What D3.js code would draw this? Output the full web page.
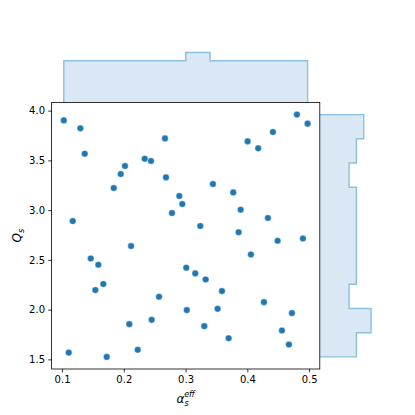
<!DOCTYPE html>
<html>
<head>
<meta charset="utf-8">
<script src="https://cdn.jsdelivr.net/npm/d3@7"></script>
<style>
body { margin: 0; background: #fff; }
text { font-family: "DejaVu Sans", sans-serif; fill: #000; }
</style>
</head>
<body>
<div id="content"></div>
<script>
// effective alpha_s and Q_s values (51 points)
const alphaEff = [0.1028, 0.1296, 0.2667, 0.1367, 0.2338, 0.2440, 0.2019, 0.1950, 0.2683, 0.1837,
    0.2898, 0.2947, 0.2780, 0.1173, 0.4803, 0.4976, 0.4414, 0.4005, 0.4176, 0.3443,
    0.3772, 0.3892, 0.4333, 0.3238, 0.3859, 0.4490, 0.4900, 0.2117, 0.1464, 0.1587,
    0.3011, 0.1668, 0.1539, 0.2570, 0.3020, 0.2451, 0.2089, 0.1108, 0.2225, 0.1723,
    0.4058, 0.3157, 0.3325, 0.3589, 0.4269, 0.4722, 0.3519, 0.3303, 0.4560, 0.3697,
    0.4673];
const qS = [3.902, 3.822, 3.721, 3.567, 3.517, 3.494, 3.444, 3.363, 3.329, 3.222,
    3.142, 3.061, 2.971, 2.890, 3.960, 3.869, 3.786, 3.691, 3.621, 3.262,
    3.178, 3.004, 2.921, 2.840, 2.778, 2.692, 2.715, 2.639, 2.514, 2.451,
    2.421, 2.257, 2.196, 2.129, 1.995, 1.897, 1.854, 1.568, 1.596, 1.525,
    2.554, 2.364, 2.303, 2.186, 2.075, 1.965, 2.008, 1.834, 1.790, 1.713,
    1.649];
const xTicks = [0.1, 0.2, 0.3, 0.4, 0.5];
const yTicks = [1.5, 2.0, 2.5, 3.0, 3.5, 4.0];
const nBins = 10;

function draw() {
    var W = 415, H = 415;
    var pLeft = 51.6, pRight = 319.8, pTop = 102.5, pBottom = 369;
    var margTop = 50, margRight = 373.6;

    var blue = '#1f77b4';
    var histFill = '#d9e8f4';
    var histStroke = '#8ec0e2';

    var svg = d3.select('#content')
    .append('svg')
    .attr('width', W)
    .attr('height', H);

    function padded(ext) {
        var r = ext[1] - ext[0];
        return [ext[0] - 0.05 * r, ext[1] + 0.05 * r];
    }

    var xExt = d3.extent(alphaEff);
    var yExt = d3.extent(qS);

    var xScale = d3.scaleLinear().domain(padded(xExt)).range([pLeft, pRight]);
    var yScale = d3.scaleLinear().domain(padded(yExt)).range([pBottom, pTop]);

    function makeBins(values, ext) {
        var w = (ext[1] - ext[0]) / nBins;
        var th = d3.range(1, nBins).map(function (i) {return ext[0] + i * w});
        return d3.bin().domain(ext).thresholds(th)(values);
    }

    var xBins = makeBins(alphaEff, xExt);
    var yBins = makeBins(qS, yExt);

    // top marginal histogram
    var topCount = d3.scaleLinear()
    .domain([0, d3.max(xBins, function (b) {return b.length}) * 1.05])
    .range([pTop, margTop]);

    var topPts = [[xBins[0].x0, 0]];
    xBins.forEach(function (b) {
        topPts.push([b.x0, b.length]);
        topPts.push([b.x1, b.length]);
    });
    topPts.push([xBins[xBins.length - 1].x1, 0]);

    var topLine = d3.line()
    .x(function (p) {return xScale(p[0])})
    .y(function (p) {return topCount(p[1])});

    svg.append('path')
    .attr('d', topLine(topPts) + 'Z')
    .attr('fill', histFill)
    .attr('stroke', 'none');
    svg.append('path')
    .attr('d', topLine(topPts))
    .attr('fill', 'none')
    .attr('stroke', histStroke)
    .attr('stroke-width', 1.45);

    // right marginal histogram
    var rightCount = d3.scaleLinear()
    .domain([0, d3.max(yBins, function (b) {return b.length}) * 1.05])
    .range([pRight, margRight]);

    var rightPts = [[yBins[0].x0, 0]];
    yBins.forEach(function (b) {
        rightPts.push([b.x0, b.length]);
        rightPts.push([b.x1, b.length]);
    });
    rightPts.push([yBins[yBins.length - 1].x1, 0]);

    var rightLine = d3.line()
    .x(function (p) {return rightCount(p[1])})
    .y(function (p) {return yScale(p[0])});

    svg.append('path')
    .attr('d', rightLine(rightPts) + 'Z')
    .attr('fill', histFill)
    .attr('stroke', 'none');
    svg.append('path')
    .attr('d', rightLine(rightPts))
    .attr('fill', 'none')
    .attr('stroke', histStroke)
    .attr('stroke-width', 1.45);

    // scatter
    svg.selectAll('circle')
    .data(alphaEff)
    .enter()
    .append('circle')
    .attr('cx', function (d) {return xScale(d)})
    .attr('cy', function (d, i) {return yScale(qS[i])})
    .attr('r', 3.3)
    .attr('fill', blue)
    .attr('stroke', '#fff')
    .attr('stroke-width', 0.4);

    // axes
    var xAxis = d3.axisBottom(xScale)
    .tickValues(xTicks)
    .tickFormat(d3.format('.1f'))
    .tickSizeInner(3.4)
    .tickSizeOuter(0)
    .tickPadding(3.2);

    var yAxis = d3.axisLeft(yScale)
    .tickValues(yTicks)
    .tickFormat(d3.format('.1f'))
    .tickSizeInner(3.4)
    .tickSizeOuter(0)
    .tickPadding(3.2);

    var gx = svg.append('g')
    .attr('transform', 'translate(0, ' + pBottom + ')')
    .call(xAxis);
    var gy = svg.append('g')
    .attr('transform', 'translate(' + pLeft + ', 0)')
    .call(yAxis);

    [gx, gy].forEach(function (g) {
        g.select('.domain').remove();
        g.selectAll('line').attr('stroke', '#000').attr('stroke-width', 0.8);
        g.selectAll('text')
        .attr('font-family', '"DejaVu Sans", sans-serif')
        .attr('font-size', '10px')
        .attr('fill', '#000');
    });

    // frame
    svg.append('rect')
    .attr('x', pLeft)
    .attr('y', pTop)
    .attr('width', pRight - pLeft)
    .attr('height', pBottom - pTop)
    .attr('fill', 'none')
    .attr('stroke', '#000')
    .attr('stroke-width', 0.8);

    // axis labels
    var xl = svg.append('text')
    .attr('x', (pLeft + pRight) / 2)
    .attr('y', 403)
    .attr('text-anchor', 'middle')
    .attr('font-size', '10px')
    .attr('font-style', 'italic');
    xl.append('tspan').attr('font-size', '12px').text('α');
    xl.append('tspan').attr('font-size', '8px').attr('dy', 3).text('s');
    xl.append('tspan').attr('font-size', '8px').attr('dx', -4.5).attr('dy', -9).text('eff');

    var yl = svg.append('text')
    .attr('transform', 'translate(21, ' + (pTop + pBottom) / 2 + ') rotate(-90)')
    .attr('text-anchor', 'middle')
    .attr('font-size', '10px')
    .attr('font-style', 'italic');
    yl.append('tspan').attr('font-size', '12px').text('Q');
    yl.append('tspan').attr('font-size', '8px').attr('dy', 3).text('s');
}

draw();
</script>
</body>
</html>
